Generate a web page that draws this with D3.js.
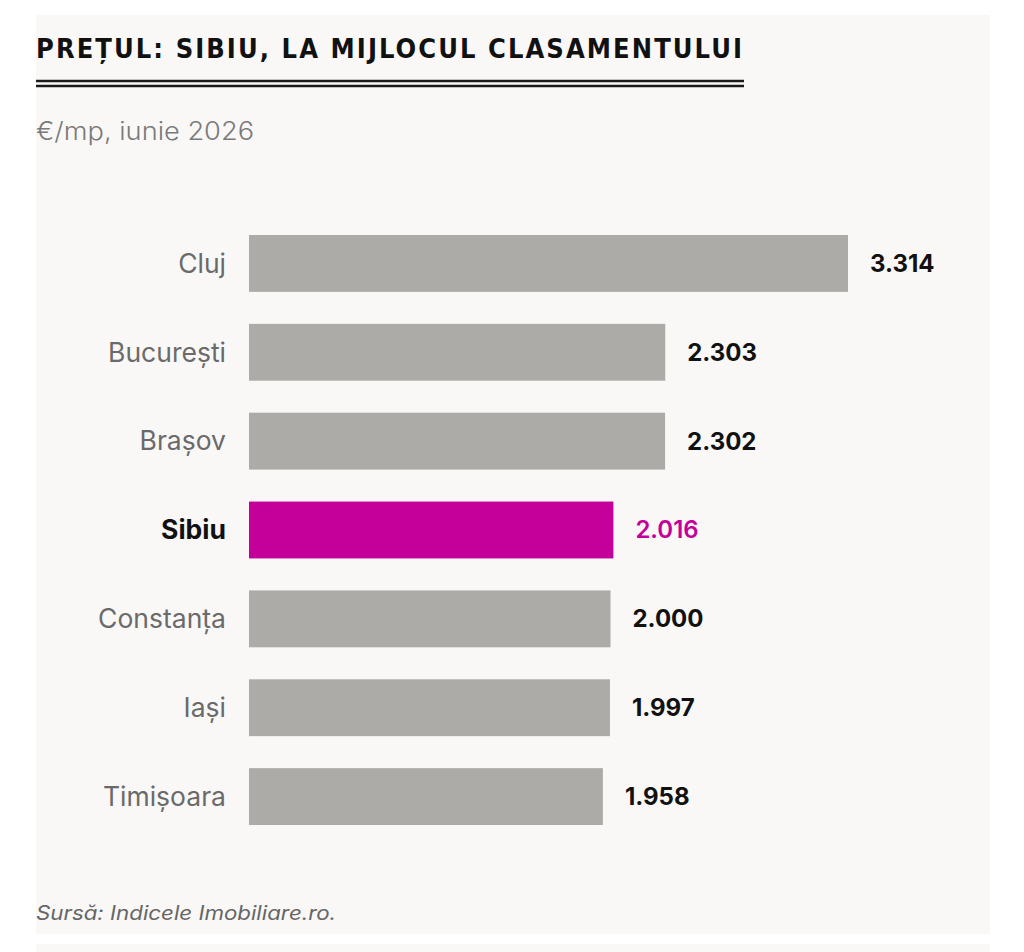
<!DOCTYPE html>
<html>
<head>
<meta charset="utf-8">
<script src="https://cdn.jsdelivr.net/npm/d3@7"></script>
<style>
  body { margin: 0; background: #fff; }
  svg { display: block; }
</style>
</head>
<body>
<svg id="chart" width="1024" height="952"></svg>
<script>
// data
const cities = ["Cluj", "București", "Brașov", "Sibiu", "Constanța", "Iași", "Timișoara"];
const prices = [3314, 2303, 2302, 2016, 2000, 1997, 1958];
const highlight = "Sibiu";

const title    = "PREȚUL: SIBIU, LA MIJLOCUL CLASAMENTULUI";
const subtitle = "€/mp, iunie 2026";
const source   = "Sursă: Indicele Imobiliare.ro.";

const rows = cities.map((c, i) => ({ city: c, value: prices[i] }));

const svg = d3.select("#chart");
const font = "Inter, 'Open Sans', sans-serif";

// panels
svg.append("rect").attr("x", 36).attr("y", 15).attr("width", 954).attr("height", 919).attr("fill", "#f9f8f7");
svg.append("rect").attr("x", 36).attr("y", 944).attr("width", 954).attr("height", 20).attr("fill", "#f9f8f7");

// title + double rule
svg.append("text")
  .attr("x", 36).attr("y", 58)
  .attr("textLength", 706).attr("lengthAdjust", "spacing")
  .style("font-family", "'Liberation Sans Narrow', 'DejaVu Sans Condensed', sans-serif")
  .style("font-weight", 700).style("font-size", "27px")
  .attr("fill", "#111")
  .text(title);

[81, 86].forEach(y => {
  svg.append("line")
    .attr("x1", 36).attr("x2", 744).attr("y1", y).attr("y2", y)
    .attr("stroke", "#1a1a1a").attr("stroke-width", 2.6);
});

svg.append("text")
  .attr("x", 36).attr("y", 140)
  .attr("textLength", 218).attr("lengthAdjust", "spacingAndGlyphs")
  .style("font-family", font).style("font-weight", 300).style("font-size", "25px")
  .attr("fill", "#7a7a7a")
  .text(subtitle);

// scales
const x = d3.scaleLinear().domain([0, 3314]).range([249, 848]);
const y = d3.scaleBand().domain(cities).range([219, 841]).paddingInner(0.36).paddingOuter(0.18);

const g = svg.append("g");

g.selectAll("rect.bar")
  .data(rows)
  .join("rect")
    .attr("class", "bar")
    .attr("x", x(0))
    .attr("y", d => y(d.city))
    .attr("width", d => x(d.value) - x(0))
    .attr("height", y.bandwidth())
    .attr("fill", d => d.city === highlight ? "#c5009a" : "#adaba8");

// city labels
g.selectAll("text.city")
  .data(rows)
  .join("text")
    .attr("class", "city")
    .attr("x", 226)
    .attr("y", d => y(d.city) + y.bandwidth() / 2)
    .attr("dy", "0.35em")
    .attr("text-anchor", "end")
    .style("font-family", font)
    .style("font-size", "26.5px")
    .style("font-weight", d => d.city === highlight ? 700 : 400)
    .attr("fill", d => d.city === highlight ? "#111" : "#6a6a6a")
    .text(d => d.city);

// value labels
const fmt = d3.formatLocale({ decimal: ",", thousands: ".", grouping: [3], currency: ["", "€"] }).format(",d");
g.selectAll("text.val")
  .data(rows)
  .join("text")
    .attr("class", "val")
    .attr("x", d => x(d.value) + 22)
    .attr("y", d => y(d.city) + y.bandwidth() / 2)
    .attr("dy", "0.35em")
    .style("font-family", font)
    .style("font-size", "24px")
    .style("font-weight", d => d.city === highlight ? 600 : 700)
    .attr("fill", d => d.city === highlight ? "#c5009a" : "#111")
    .text(d => fmt(d.value));

// source
svg.append("text")
  .attr("x", 36).attr("y", 920)
  .attr("textLength", 300).attr("lengthAdjust", "spacingAndGlyphs")
  .style("font-family", font).style("font-style", "italic").style("font-size", "20px")
  .attr("fill", "#666")
  .text(source);
</script>
</body>
</html>
